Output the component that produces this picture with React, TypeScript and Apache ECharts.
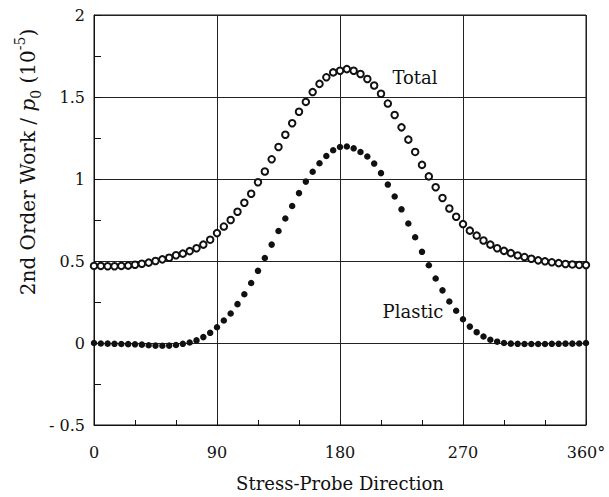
import React, { useEffect, useRef } from 'react';
import * as echarts from 'echarts';

const angles = [
  0, 5, 10, 15, 20, 25, 30, 35, 40, 45, 50, 55, 60,
  65, 70, 75, 80, 85, 90, 95, 100, 105, 110, 115, 120, 125,
  130, 135, 140, 145, 150, 155, 160, 165, 170, 175, 180, 185, 190,
  195, 200, 205, 210, 215, 220, 225, 230, 235, 240, 245, 250, 255,
  260, 265, 270, 275, 280, 285, 290, 295, 300, 305, 310, 315, 320,
  325, 330, 335, 340, 345, 350, 355, 360,
];

const totalWork = [
  0.47, 0.47, 0.468, 0.468, 0.47, 0.472, 0.477, 0.483, 0.49, 0.5, 0.51, 0.52, 0.535,
  0.545, 0.56, 0.578, 0.6, 0.63, 0.67, 0.71, 0.75, 0.8, 0.855, 0.91, 0.98, 1.046,
  1.12, 1.195, 1.27, 1.34, 1.41, 1.47, 1.53, 1.58, 1.62, 1.65, 1.66, 1.67, 1.66,
  1.64, 1.61, 1.57, 1.52, 1.46, 1.39, 1.315, 1.24, 1.165, 1.086, 1.016, 0.95, 0.884,
  0.82, 0.77, 0.725, 0.685, 0.655, 0.625, 0.6, 0.578, 0.562, 0.548, 0.534, 0.524, 0.514,
  0.504, 0.498, 0.492, 0.487, 0.482, 0.479, 0.476, 0.475,
];

const plasticWork = [
  0, -0.003, -0.004, -0.005, -0.006, -0.007, -0.008, -0.01, -0.014, -0.016, -0.017, -0.016, -0.012,
  -0.005, 0.003, 0.016, 0.036, 0.062, 0.096, 0.137, 0.18, 0.237, 0.297, 0.366, 0.44, 0.518,
  0.6, 0.683, 0.759, 0.835, 0.914, 0.984, 1.044, 1.096, 1.14, 1.175, 1.195, 1.198, 1.187,
  1.165, 1.137, 1.094, 1.036, 0.966, 0.893, 0.815, 0.729, 0.645, 0.556, 0.474, 0.393, 0.321,
  0.253, 0.197, 0.145, 0.1, 0.066, 0.04, 0.02, 0.008, 0, -0.004, -0.005, -0.006, -0.006,
  -0.006, -0.006, -0.005, -0.005, -0.004, -0.004, -0.003, 0,
];

const xAxisName = 'Stress-Probe Direction';
const seriesNames = ['Total', 'Plastic'];

const FONT = '"DejaVu Serif", "Liberation Serif", serif';
const INK = '#111';

export default function App() {
  const ref = useRef<HTMLDivElement>(null);

  useEffect(() => {
    document.body.style.margin = '0';
    const chart = echarts.init(ref.current!, null, { renderer: 'svg' });
    const totalData = angles.map((a, i) => [a, totalWork[i]]);
    const plasticData = angles.map((a, i) => [a, plasticWork[i]]);

    chart.setOption({
      animation: false,
      backgroundColor: '#fff',
      grid: {
        left: 94, right: 23, top: 15, bottom: 67,
        show: true, borderColor: INK, borderWidth: 1,
      },
      xAxis: {
        type: 'value', min: 0, max: 360, interval: 90,
        name: xAxisName, nameLocation: 'middle', nameGap: 49,
        nameTextStyle: { fontFamily: FONT, fontSize: 18, color: INK },
        axisLine: { show: true, onZero: false, lineStyle: { color: INK, width: 1 } },
        axisTick: { show: true, inside: true, length: 5, lineStyle: { color: INK } },
        minorTick: { show: true, splitNumber: 3, length: 5, lineStyle: { color: INK } },
        splitLine: { show: true, lineStyle: { color: '#222', width: 1 } },
        axisLabel: {
          fontFamily: FONT, fontSize: 16, color: INK, margin: 19,
          formatter: (v: number) => (v === 360 ? '360°' : String(v)),
        },
      },
      yAxis: {
        type: 'value', min: -0.5, max: 2, interval: 0.5,
        axisLine: { show: true, onZero: false, lineStyle: { color: INK, width: 1 } },
        axisTick: { show: true, inside: true, length: 7, lineStyle: { color: INK } },
        minorTick: { show: true, splitNumber: 2, length: 7, lineStyle: { color: INK } },
        splitLine: { show: true, lineStyle: { color: '#222', width: 1 } },
        axisLabel: {
          fontFamily: FONT, fontSize: 16, color: INK, margin: 9,
          formatter: (v: number) => (v === -0.5 ? '- 0.5' : String(v)),
        },
      },
      series: [
        {
          name: seriesNames[0],
          type: 'scatter',
          data: totalData,
          symbol: 'emptyCircle',
          symbolSize: 6.5,
          itemStyle: { color: INK, borderColor: INK, borderWidth: 1.2, opacity: 1 },
          z: 3,
        },
        {
          name: seriesNames[1],
          type: 'scatter',
          data: plasticData,
          symbol: 'circle',
          symbolSize: 6.5,
          itemStyle: { color: INK, opacity: 1 },
          z: 4,
        },
      ],
      graphic: [
        {
          type: 'text',
          x: 28, y: 162,
          rotation: Math.PI / 2,
          style: {
            text: '2nd Order Work / {i|p}{sub|0} ({n|10}{sup|-5})',
            fontFamily: FONT, fontSize: 20, fill: INK,
            align: 'center', verticalAlign: 'middle',
            rich: {
              i: { fontFamily: FONT, fontSize: 20, fontStyle: 'italic', fill: INK, lineHeight: 30 },
              n: { fontFamily: FONT, fontSize: 20, fill: INK, lineHeight: 30 },
              sub: { fontFamily: FONT, fontSize: 14, fill: INK, verticalAlign: 'bottom', lineHeight: 30 },
              sup: { fontFamily: FONT, fontSize: 14, fill: INK, verticalAlign: 'top', lineHeight: 30 },
            },
          },
        },
        {
          type: 'text',
          x: 415, y: 77,
          style: {
            text: seriesNames[0], fontFamily: FONT, fontSize: 18, fill: INK,
            align: 'center', verticalAlign: 'middle',
          },
        },
        {
          type: 'text',
          x: 413, y: 311,
          style: {
            text: seriesNames[1], fontFamily: FONT, fontSize: 18, fill: INK,
            align: 'center', verticalAlign: 'middle',
          },
        },
      ],
    });

    return () => chart.dispose();
  }, []);

  return <div ref={ref} style={{ width: 609, height: 497 }} />;
}
